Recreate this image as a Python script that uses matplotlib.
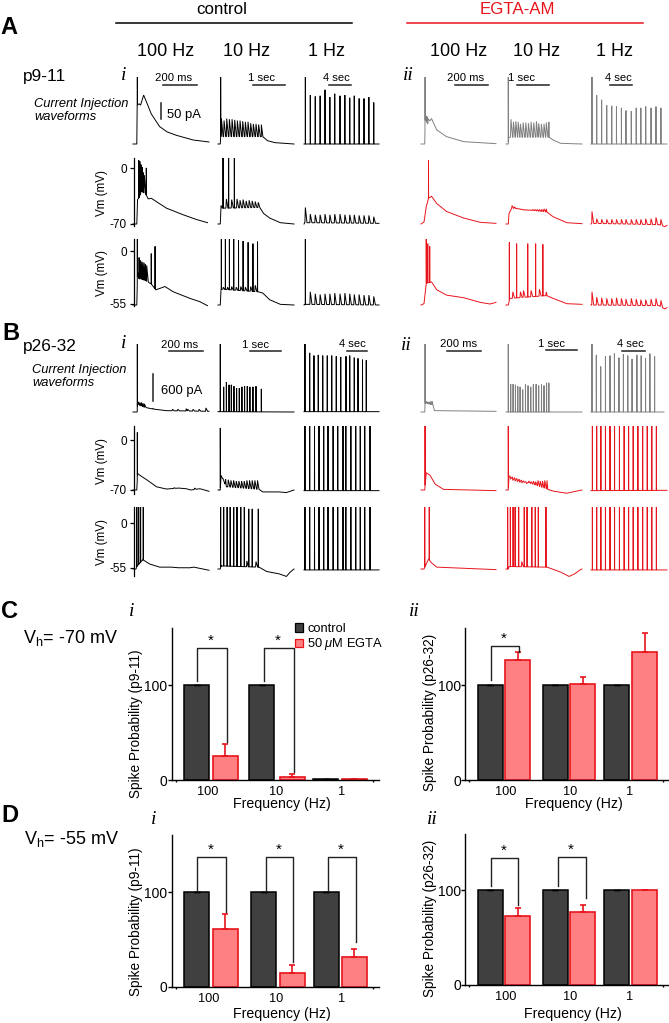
import numpy as np
import matplotlib
matplotlib.use("Agg")
import matplotlib.pyplot as plt
from matplotlib.patches import Patch

plt.rcParams['font.family'] = ['Liberation Sans', 'DejaVu Sans']
plt.rcParams['mathtext.fontset'] = 'custom'
plt.rcParams['mathtext.rm'] = 'Liberation Sans'
plt.rcParams['mathtext.it'] = 'Liberation Sans:italic'

W, H = 669, 1023
RED = '#e8141c'
PINK = '#ff8083'
DARK = '#404040'
GRAY = '#808080'

# ---- traces: (baseline t, baseline v, spike t, spike v)
# t and v are percent of the panel box, v = 0 is the bottom of the trace

t1_a = [1.8, 8.4, 15, 21.5, 28, 34.5, 41, 48, 54.5, 61, 67, 73.5, 80, 86.5, 93]
t1_ae = [1.3, 7.5, 14, 20.7, 27.3, 33.5, 40, 46, 53, 59.5, 65.6, 72, 79, 85.5, 92]
t1_b = [1.3, 7.6, 14, 20, 26.3, 32, 38.8, 45, 52, 55.8, 62.5, 69, 75, 81, 88]
t1_be = [1.8, 7.5, 13, 19, 25, 31, 37.4, 43.6, 49.5, 55.5, 61.7, 68, 74, 80, 86]

# A, control
a1_c100 = ([0, 5, 5.5, 8, 10, 14, 18, 24, 35, 45, 57, 79, 100],
           [0, 0, 58, 60, 58, 73, 62, 45, 26, 18, 13, 6, 3],
           [5.7], [100])
a1_c10 = ([0, 3, 3.5, 57, 60, 65, 75, 100], [0, 0, 11, 11, 10, 5, 2, 0],
          [3.5, 4.5, 8, 11.5, 15, 18.5, 22, 25.5, 29, 32.5, 36, 39.5, 43, 46.5, 50, 53.5, 57],
          [100, 38, 35, 38, 37, 37, 36, 35, 35, 34, 33, 33, 31, 30, 30, 29, 29])
a1_c1 = ([0, 100], [0, 0], t1_a,
         [100, 73, 71, 72, 81, 70, 75, 72, 73, 69, 72, 68, 68, 70, 62])
a2_c100 = ([0, 5, 6, 8, 11, 17, 20, 24, 44, 66, 83, 98],
           [0, 0, 37, 40, 50, 45, 38, 39, 24, 14, 7, 2],
           [7.5, 9, 10.5, 12, 13.5, 15, 17.5],
           [97, 95, 90, 86, 78, 74, 85])
a2_c10 = ([0, 3, 4, 6, 55, 60, 68, 82, 100], [0, 0, 28, 24, 25, 16, 9, 2, 0],
          [6.6, 11, 14, 18, 21.5, 25, 29, 33, 37, 41, 45, 49, 53],
          [100, 38, 100, 37, 100, 38, 36, 37, 35, 36, 35, 34, 33])
a2_c1 = ([0, 1, 100], [0, 2, 1], t1_a,
         [25, 15, 14, 14, 15, 14, 15, 15, 14, 14, 14, 13, 13, 13, 11])
a3_c100 = ([0, 5, 6, 8, 14, 18, 24, 30, 35, 42, 53, 75, 88, 98],
           [0, 0, 50, 40, 38, 36, 32, 23, 25, 28, 20, 10, 5, -1],
           [5.7, 8, 9.7, 11.4, 13, 14.7, 16.4, 18, 24, 29],
           [100, 72, 68, 66, 65, 64, 62, 60, 78, 89])
a3_c10 = ([0, 3, 4, 53, 59, 68, 82, 100], [0, 0, 24, 20, 18, 8, 1, 0],
          [4.4, 7, 9.7, 12.5, 15, 18, 20.7, 24, 27, 30, 33, 36, 39.6, 43, 46, 49, 52],
          [100, 27, 100, 27, 100, 28, 100, 27, 98, 28, 97, 27, 95, 28, 93, 30, 96])
a3_c1 = ([0, 1, 100], [0, 1, 0], t1_a,
         [100, 20, 17, 16, 17, 17, 18, 17, 18, 17, 16, 16, 15, 15, 13])

# A, EGTA
a1_e100 = ([0, 5, 5.5, 9, 14, 21, 34, 57, 100], [0, 0, 36, 30, 38, 21, 11, 3.5, 0.5],
           [5.4, 6.5, 8, 9.5], [100, 42, 41, 38])
a1_e10 = ([0, 3, 3.5, 57, 62, 72, 100], [0, 0, 10, 10, 6, 1, 0],
          [3, 6.5, 9.8, 12.9, 16, 19, 22.5, 26, 29.5, 33, 36.5, 40, 43, 46.5, 50, 53, 56.4],
          [100, 37, 33, 34, 33, 30, 32, 32, 31, 33, 32, 34, 31, 30, 30, 32, 33])
a1_e1 = ([0, 100], [0, 0], [1.3] + t1_ae[1:],
         [100, 73, 66, 58, 57, 56, 54, 50, 49, 54, 54, 56, 54, 56, 54])
a2_e100 = ([0, 4, 7, 10, 14, 21, 34, 57, 79, 100], [0, 3, 26, 39, 42, 31, 19, 9, 2.5, 1],
           [10], [97])
a2_e10 = ([0, 3, 4, 7.5, 54, 62, 80, 100], [0, 0, 16, 24, 18, 11, 2, 0.5],
          [8, 11, 14, 17, 20, 23, 26, 29, 32, 35, 38, 41, 44, 47, 50, 53],
          [28, 26, 24, 23, 22, 21, 21, 21, 21, 22, 22, 22, 22, 22, 23, 23])
a2_e1 = ([0, 1, 90, 97, 100], [0, 1, -1, -4, -2], t1_ae,
         [19, 8, 7, 7, 7, 7, 7, 7, 7, 7, 7, 8, 8, 10, 7])
a3_e100 = ([0, 4, 7, 14, 21, 34, 57, 79, 92, 100], [0, 2, 33, 35, 23, 15, 11, 4, 1.5, 4],
           [7, 9, 11.6], [100, 93, 89])
a3_e10 = ([0, 3, 5, 50, 54, 62, 80, 100], [0, 0, 10, 14, 14, 10, 2, 1],
          [4.4, 9, 14, 19, 23, 28.6, 33, 39, 44, 48.5, 53],
          [95, 20, 93, 20, 22, 93, 22, 93, 24, 92, 20])
a3_e1 = ([0, 1, 90, 97, 100], [0, 0, -1, -6, -4], t1_ae,
         [20, 12, 11, 10, 10, 11, 10, 9, 10, 9, 8, 8, 9, 10, 7])

# B, control
b1_c100 = ([0, 5.5, 6, 15, 26, 44, 100], [0, 0, 11, 7, 4.4, 2, 1],
           [5.7, 7, 9, 11, 13, 15, 26, 52, 59, 70, 72, 79, 87, 96],
           [100, 15, 14, 14, 13, 12, 5, 4, 4, 5, 4, 4, 4, 6])
b1_c10 = ([0, 100], [0.5, 0],
          [3, 7.5, 11, 14.5, 17.5, 21, 24.5, 28, 31.5, 35, 38.5, 42, 46, 50, 57],
          [100, 37, 44, 40, 40, 38, 35, 35, 37, 38, 38, 37, 37, 38, 34])
b1_c1 = ([0, 100], [0.5, 0.5], [1.3, 7.6, 13.3, 19, 25, 31, 37, 43, 49, 56, 61, 67, 72, 78, 83],
         [100, 87, 83, 84, 83, 83, 83, 82, 81, 82, 83, 80, 79, 77, 76])
b2_c100 = ([0, 5, 6, 9, 18, 31, 44, 60, 70, 76, 88, 100], [0, 0, 26, 23, 16, 5, 1.5, 3, 2, 0, 2, -2],
           [5.7, 54, 81], [90, 3.5, 3])
b2_c10 = ([0, 3, 4, 11, 54, 59, 80, 90, 100], [0, 0, 23, 5, 1, -3, -3, -4, 0],
          [3, 6.5, 10, 13.5, 17, 20.5, 24, 27.5, 31, 34.5, 38, 41.5, 45, 48.5, 52],
          [97, 18, 17, 16, 15, 15, 14, 14, 14, 14, 15, 15, 15, 15, 15])
b2_c1 = ([0, 100], [-1, -1], t1_b, [100] * 15)
b3_c100 = ([0, 4, 5, 13, 22, 35, 50, 60, 75, 80, 100], [0, 0, 4, 15, 8, 3, 3, 2, 2, 3, -2],
           [5, 7.5, 10, 13.5], [100, 100, 100, 100])
b3_c10 = ([0, 3, 4, 54, 64, 81, 90, 95, 100], [0, 0, 5, 3, -4, -8, -12, -5, 0],
          [3.5, 7.5, 12, 16, 20.7, 25, 30, 34.6, 38, 40.5, 45, 50, 53],
          [100, 100, 100, 100, 100, 100, 100, 100, 13, 97, 97, 12, 97])
b3_c1 = ([0, 100], [-1.5, -1.5], t1_b, [100] * 15)

# B, EGTA
b1_e100 = ([0, 5, 5.5, 16, 18, 100], [0, 0, 13, 10, 2, 1],
           [5.4, 7, 9, 11, 13, 15], [100, 16, 15, 15, 16, 16])
b1_e10 = ([0, 100], [0, 0],
          [3, 6.2, 9.3, 12.4, 15.5, 18.5, 22, 25.6, 29, 32.6, 36, 39.6, 43, 46.7, 50, 53.4, 56.4],
          [100, 41, 41, 40, 38, 37, 33, 41, 39, 37, 41, 41, 39, 41, 39, 43, 43])
b1_e1 = ([0, 96], [0, 0], [1.3, 7, 12.8, 19, 25, 30.8, 36.8, 42.6, 48.4, 54, 60.4, 66, 71.8, 77.5, 83.7],
         [100, 84, 67, 82, 83, 86, 80, 85, 83, 78, 84, 83, 79, 86, 82])
b2_e100 = ([0, 5, 7, 12, 19, 30, 100], [0, 0, 27, 23, 9, 1, -1], [5.4], [100])
b2_e10 = ([0, 3, 4, 55, 63, 80, 100], [0, 0, 22, 1, -2, -5, 0],
          [3, 6, 9, 12, 15, 18, 21, 24, 27, 30, 33, 36, 39, 42, 45, 48, 51, 54],
          [100, 17, 15, 14, 13, 12, 11, 12, 10, 14, 13, 14, 13, 15, 14, 14, 15, 15])
b2_e1 = ([0, 100], [-1, -0.5], t1_be, [100] * 15)
b3_e100 = ([0, 4, 7, 10, 14, 21, 100], [0, 0, 8, 16, 10, 3, -1], [5, 11], [100, 100])
b3_e10 = ([0, 3, 4, 54, 63, 72, 83, 90, 98, 100], [0, 0, 4, 3, -1, -5, -12, -8, -1, 0],
          [2.2, 5.7, 9.3, 12, 16.7, 20.7, 24, 27.7, 34, 38.5, 42.5, 52.6],
          [100, 100, 100, 100, 100, 12, 100, 100, 100, 100, 100, 100])
b3_e1 = ([0, 100], [-1.5, -1.5], t1_be, [100] * 15)

# ---- bar values
freq_labels = ['100', '10', '1']
ci_ctrl, ci_egta = [100, 100, 1], [25, 3, 1]
ci_ctrl_err, ci_egta_err = [0.5, 0.5, 0], [13, 3.5, 0]
cii_ctrl, cii_egta = [100, 100, 100], [127, 101, 135]
cii_ctrl_err, cii_egta_err = [0.5, 0.5, 0.5], [8, 8, 20]
di_ctrl, di_egta = [100, 100, 100], [61, 15, 32]
di_ctrl_err, di_egta_err = [0.5, 0.5, 0.5], [16, 8, 8.5]
dii_ctrl, dii_egta = [100, 100, 100], [73, 77, 100]
dii_ctrl_err, dii_egta_err = [0.5, 0.5, 0.5], [8, 7.5, 0.5]

# ---- layout (pixels of the 669x1023 picture)
col_x = [(133, 209), (218, 294), (304, 379), (421, 496), (506, 582), (591, 667)]
row_y = [(77, 144), (158, 224), (239, 305), (344, 412), (426, 490), (507, 569)]

fig = plt.figure(figsize=(W / 100, H / 100), dpi=100)


def px_axes(l, t, r, b):
    return fig.add_axes([l / W, 1 - b / H, (r - l) / W, (b - t) / H])


ov = fig.add_axes([0, 0, 1, 1])
ov.set_xlim(0, W)
ov.set_ylim(H, 0)
ov.axis('off')
ov.set_zorder(5)


def spiky(trace):
    env_t, env_v, sp_t, sp_v = trace
    ts = list(env_t)
    vs = list(env_v)
    for i, (t, v) in enumerate(zip(sp_t, sp_v)):
        gap = sp_t[i + 1] - t if i + 1 < len(sp_t) else 5
        if v - np.interp(t, env_t, env_v) > 30:
            hw_l, hw_r = 0.1, 0.15
        else:
            # small bumps rise fast and fall slower
            hw_l, hw_r = min(0.6, gap * 0.2), min(2.2, gap * 0.7)
        ts += [t - hw_l, t, t + hw_r]
        vs += [np.interp(t - hw_l, env_t, env_v), v, np.interp(t + hw_r, env_t, env_v)]
    order = np.argsort(ts, kind='stable')
    return np.array(ts)[order], np.array(vs)[order]


def draw_trace(col, row, trace, color):
    l, r = col_x[col]
    t, b = row_y[row]
    ax = px_axes(l, t, r, b)
    ax.set_xlim(0, 100)
    ax.set_ylim(0, 100)
    ax.axis('off')
    x, y = spiky(trace)
    ax.plot(x, y, color=color, lw=0.7, clip_on=False, solid_joinstyle='miter')


grid = [
    [a1_c100, a1_c10, a1_c1, a1_e100, a1_e10, a1_e1],
    [a2_c100, a2_c10, a2_c1, a2_e100, a2_e10, a2_e1],
    [a3_c100, a3_c10, a3_c1, a3_e100, a3_e10, a3_e1],
    [b1_c100, b1_c10, b1_c1, b1_e100, b1_e10, b1_e1],
    [b2_c100, b2_c10, b2_c1, b2_e100, b2_e10, b2_e1],
    [b3_c100, b3_c10, b3_c1, b3_e100, b3_e10, b3_e1],
]
for r, row in enumerate(grid):
    for c, trace in enumerate(row):
        if c < 3:
            color = 'black'
        elif r in (0, 3):
            color = GRAY
        else:
            color = RED
        draw_trace(c, r, trace, color)


def vm_axis(top, bot, zero_px, low_px, low):
    ax = px_axes(134, top, 135, bot)
    mv_per_px = -low / (low_px - zero_px)
    ax.set_ylim(-(bot - zero_px) * mv_per_px, (zero_px - top) * mv_per_px)
    ax.set_xticks([])
    ax.set_yticks([0, low])
    ax.set_yticklabels(['0', str(low)], fontsize=8.5)
    ax.tick_params(axis='y', length=3, width=0.9, pad=2)
    for s in ['top', 'right', 'bottom']:
        ax.spines[s].set_visible(False)
    ax.spines['left'].set_linewidth(0.9)
    ax.patch.set_visible(False)
    ov.text(102, (top + bot) / 2 + 1, 'Vm (mV)', rotation=90, fontsize=8.4, ha='center', va='center')


vm_axis(158, 226, 168, 224, -70)
vm_axis(239, 306, 251, 304, -55)
vm_axis(426, 494, 440, 490, -70)
vm_axis(507, 576, 523, 568, -55)


def scale(x0, x1, y, label, tx, ty):
    ov.plot([x0, x1], [y, y], color='#222222', lw=1.1)
    ov.text(tx, ty, label, fontsize=8.1, ha='center', va='center')


scale(163, 197, 85, '200 ms', 174, 78)
scale(253, 285, 85, '1 sec', 261, 78)
scale(329, 351, 85, '4 sec', 336, 78)
scale(455, 488, 85, '200 ms', 466, 78)
scale(517, 549, 85, '1 sec', 522, 78)
scale(610, 632, 85, '4 sec', 618, 78)
scale(169, 203, 351, '200 ms', 180, 345)
scale(250, 281, 351, '1 sec', 255, 345)
scale(347, 367, 351, '4 sec', 352, 344)
scale(447, 481, 351, '200 ms', 459, 344)
scale(546, 577, 350, '1 sec', 551, 344)
scale(622, 645, 351, '4 sec', 630, 344)

ov.plot([161, 161], [103, 119], color='#222222', lw=1.1)
ov.text(167, 115, '50 pA', fontsize=9.4, va='center')
ov.plot([153, 153], [374, 401], color='#222222', lw=1.1)
ov.text(161, 391, '600 pA', fontsize=9.4, va='center')

# headers
ov.plot([116, 352], [23, 23], color='black', lw=1.1)
ov.plot([407, 643], [23, 23], color=RED, lw=1.1)
ov.text(222, 9, 'control', fontsize=12.2, ha='center', va='center')
ov.text(517, 9, 'EGTA-AM', fontsize=12.2, ha='center', va='center', color=RED)
for x, s in zip([166, 247, 327, 459, 537, 614], ['100 Hz', '10 Hz', '1 Hz'] * 2):
    ov.text(x, 52, s, fontsize=13, ha='center', va='center')

for s, x, y in [('A', 0, 28), ('B', 2, 333), ('C', 1, 612), ('D', 1, 815)]:
    ov.text(x, y, s, fontsize=17, fontweight='bold', va='center')
ov.text(23, 77, 'p9-11', fontsize=12.4, va='center')
ov.text(23, 347, 'p26-32', fontsize=12.4, va='center')
ov.text(34, 104, 'Current Injection', fontsize=9.3, style='italic', va='center')
ov.text(34, 117, 'waveforms', fontsize=9.3, style='italic', va='center')
ov.text(32, 370, 'Current Injection', fontsize=9.3, style='italic', va='center')
ov.text(32, 383, 'waveforms', fontsize=9.3, style='italic', va='center')
ov.text(23, 638, r'V$_{\mathrm{h}}$= -70 mV', fontsize=13, va='center')
ov.text(24, 839, r'V$_{\mathrm{h}}$= -55 mV', fontsize=13, va='center')

for s, x, y in [('i', 124, 75), ('ii', 408, 75), ('i', 124, 343), ('ii', 406, 345),
                ('i', 132, 612), ('ii', 414, 612), ('i', 154, 820), ('ii', 432, 820)]:
    ov.text(x, y, s, fontsize=14, family='Liberation Serif', style='italic', ha='center', va='center')


def bar_panel(l, r, top, y0, ctrl_x, egta_x, label_x, ctrl, egta, ctrl_err, egta_err,
              ylabel, ylab_x, ylab_y, xlab_x, xlab_y, brackets, ticks):
    ax = px_axes(l, top, r, y0)
    ax.set_xlim(0, r - l)
    ax.set_ylim(0, (y0 - top) / 0.947)
    cx = np.array(ctrl_x) - l
    ex = np.array(egta_x) - l
    ax.bar(cx, ctrl, width=25, color=DARK, edgecolor='black', linewidth=1.1)
    ax.bar(ex, egta, width=25, color=PINK, edgecolor=RED, linewidth=1.2)
    ax.errorbar(cx, ctrl, yerr=[np.zeros(3), ctrl_err], fmt='none', ecolor='black',
                capsize=2.5, elinewidth=1, capthick=1, clip_on=False)
    ax.errorbar(ex, egta, yerr=[np.zeros(3), egta_err], fmt='none', ecolor=RED,
                capsize=2.5, elinewidth=1.2, capthick=1.2, clip_on=False)
    for s in ['top', 'right']:
        ax.spines[s].set_visible(False)
    ax.spines['left'].set_linewidth(1)
    ax.spines['bottom'].set_linewidth(1)
    ax.set_yticks([0, 100])
    ax.tick_params(axis='y', length=3, width=1, pad=0, labelsize=10)
    ax.set_xticks(np.array(label_x) - l)
    ax.set_xticklabels(freq_labels)
    ax.tick_params(axis='x', which='major', length=0, pad=4, labelsize=9.2)
    ax.set_xticks(ticks, minor=True)
    ax.tick_params(axis='x', which='minor', length=1.5, width=1)
    ax.set_ylabel(ylabel, fontsize=9.8)
    ax.yaxis.set_label_coords((ylab_x + 1 - l) / (r - l), (y0 - ylab_y) / (y0 - top))
    ax.set_xlabel('Frequency (Hz)', fontsize=10.2)
    ax.xaxis.set_label_coords((xlab_x - l) / (r - l), (y0 - xlab_y) / (y0 - top))
    ax.xaxis.label.set_va('center')
    ax.yaxis.label.set_va('center')
    for x0, x1, top_px, left_px, right_px in brackets:
        bx = [x0 - l, x0 - l, x1 - l, x1 - l]
        by = [(y0 - left_px) / 0.947, (y0 - top_px) / 0.947, (y0 - top_px) / 0.947, (y0 - right_px) / 0.947]
        ax.plot(bx, by, color='#222222', lw=1)
        ov.text((x0 + x1) / 2 - 1, top_px - 7, '*', fontsize=11, ha='center', va='center')
    return ax


ax_ci = bar_panel(171.5, 379, 628, 780, [196.5, 261.5, 325.5], [225, 292, 354], [208, 276, 342],
                  ci_ctrl, ci_egta, ci_ctrl_err, ci_egta_err,
                  'Spike Probability (p9-11)', 135, 724, 282, 804,
                  [(197, 227, 648, 681, 742), (264, 294, 648, 681, 772)], [4.5, 201.5])
bar_panel(465, 669, 628, 780, [490, 555, 616.5], [517.5, 582.5, 644.5], [506, 570, 630],
          cii_ctrl, cii_egta, cii_ctrl_err, cii_egta_err,
          'Spike Probability (p26-32)', 429, 712, 574, 804,
          [(491, 519, 646, 680, 652)], [4, 198])
bar_panel(171.5, 379, 835, 987, [196.5, 263.5, 326], [225, 292, 354], [209, 276, 342],
          di_ctrl, di_egta, di_ctrl_err, di_egta_err,
          'Spike Probability (p9-11)', 135, 922, 282, 1014,
          [(197, 226, 857, 890, 912), (266, 293, 857, 890, 962), (328, 356, 857, 890, 942)], [4.5, 201.5])
bar_panel(465, 669, 834, 985, [490, 555, 616.5], [517.5, 582.5, 644.5], [506, 570, 630],
          dii_ctrl, dii_egta, dii_ctrl_err, dii_egta_err,
          'Spike Probability (p26-32)', 429, 918, 573, 1014,
          [(491, 518, 858, 886, 905), (558, 586, 857, 886, 898)], [4, 198])

handles = [Patch(facecolor=DARK, edgecolor='black', linewidth=0.9),
           Patch(facecolor=PINK, edgecolor=RED, linewidth=0.9)]
leg = fig.legend(handles, ['control', r'50 $\mu$M EGTA'], loc='upper left',
                 bbox_to_anchor=(295 / W, 1 - 623 / H), frameon=False, fontsize=9.3,
                 handlelength=0.6, handleheight=0.6, handletextpad=0.35,
                 labelspacing=0.1, borderpad=0, borderaxespad=0)
leg.set_zorder(6)

fig.savefig('out.png', dpi=100)
